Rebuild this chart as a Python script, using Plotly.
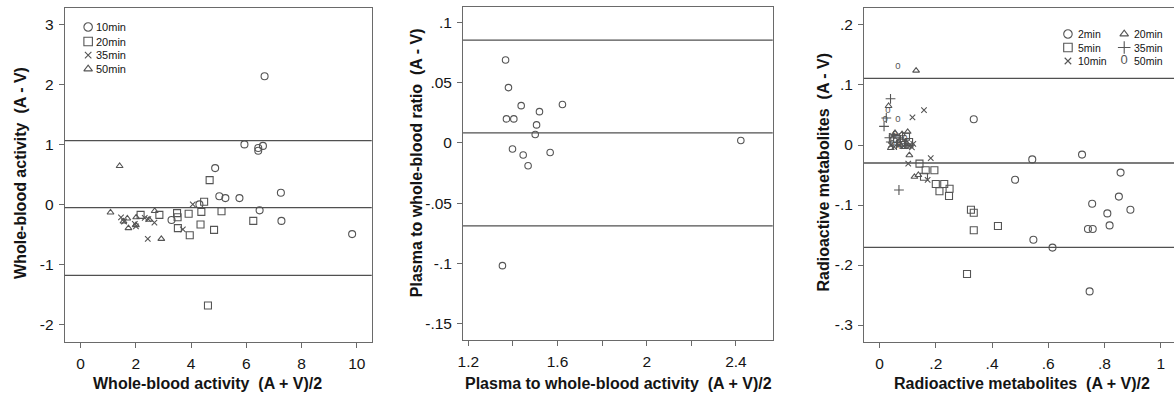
import plotly.graph_objects as go

# ---------------- data ----------------
# Whole-blood activity: mean (A+V)/2 vs difference (A-V), by sampling time
wb_10_x = [6.66, 5.93, 6.43, 6.43, 6.60, 4.87, 5.02, 5.24, 5.75, 7.25, 6.48, 7.27, 9.83, 3.29, 4.30]
wb_10_y = [2.14, 1.005, 0.945, 0.90, 0.98, 0.61, 0.14, 0.11, 0.11, 0.20, -0.094, -0.27, -0.49, -0.255, 0.005]
wb_20_x = [4.67, 4.47, 5.10, 6.25, 4.83, 4.37, 4.34, 3.95, 3.91, 3.52, 3.51, 3.49, 2.85, 2.17, 4.61]
wb_20_y = [0.41, 0.05, -0.11, -0.27, -0.42, -0.12, -0.33, -0.51, -0.15, -0.39, -0.21, -0.14, -0.17, -0.17, -1.68]
wb_35_x = [4.06, 3.70, 2.43, 2.67, 1.46, 1.57, 1.96, 2.00, 2.32, 2.45]
wb_35_y = [0.005, -0.41, -0.57, -0.30, -0.21, -0.28, -0.32, -0.36, -0.22, -0.24]
wb_50_x = [1.41, 1.08, 1.55, 1.69, 1.73, 2.01, 2.48, 2.68, 2.92, 2.00]
wb_50_y = [0.645, -0.13, -0.28, -0.23, -0.39, -0.21, -0.25, -0.105, -0.57, -0.34]
wb_limits = [1.067, -0.05, -1.177]

# Plasma to whole-blood ratio
pr_x = [1.367, 1.380, 1.437, 1.519, 1.622, 1.371, 1.404, 1.506, 1.500, 1.398, 1.446, 1.468, 1.567, 2.422, 1.353]
pr_y = [0.069, 0.046, 0.031, 0.026, 0.032, 0.020, 0.020, 0.015, 0.007, -0.005, -0.010, -0.019, -0.008, 0.002, -0.102]
pr_limits = [0.0855, 0.0083, -0.069]

# Radioactive metabolites, by sampling time
rm_2_x = [0.335, 0.543, 0.720, 0.482, 0.857, 0.851, 0.756, 0.810, 0.892, 0.741, 0.758, 0.818, 0.547, 0.615, 0.747]
rm_2_y = [0.043, -0.024, -0.016, -0.058, -0.046, -0.086, -0.098, -0.114, -0.108, -0.140, -0.140, -0.134, -0.158, -0.171, -0.244]
rm_5_x = [0.142, 0.164, 0.195, 0.158, 0.200, 0.230, 0.213, 0.249, 0.247, 0.325, 0.335, 0.335, 0.421, 0.311,
          0.094, 0.105, 0.088, 0.062, 0.076]
rm_5_y = [-0.031, -0.042, -0.042, -0.053, -0.065, -0.065, -0.077, -0.073, -0.085, -0.108, -0.113, -0.142, -0.135, -0.215,
          0.014, 0.005, 0.000, 0.010, 0.004]
rm_10_x = [0.117, 0.158, 0.102, 0.182, 0.171, 0.040, 0.052, 0.070, 0.086, 0.110, 0.120, 0.065, 0.046, 0.115]
rm_10_y = [0.046, 0.058, -0.031, -0.022, -0.058, 0.000, -0.003, 0.000, -0.002, 0.000, 0.002, 0.008, 0.015, -0.004]
rm_20_x = [0.130, 0.032, 0.106, 0.124, 0.138, 0.100, 0.055, 0.040, 0.080, 0.100]
rm_20_y = [0.124, 0.065, -0.017, -0.053, -0.050, 0.022, 0.020, -0.005, 0.018, -0.003]
rm_35_x = [0.039, 0.016, 0.024, 0.069, 0.050, 0.040, 0.060, 0.095, 0.070, 0.035]
rm_35_y = [0.077, 0.031, 0.045, -0.075, 0.015, 0.005, 0.000, 0.002, 0.012, 0.012]
rm_50_x = [0.065, 0.065, 0.020, 0.030, 0.045, 0.075, 0.055, 0.090]
rm_50_y = [0.131, 0.042, 0.042, 0.058, 0.003, -0.002, 0.018, 0.010]
rm_limits = [0.111, -0.030, -0.1705]

# axis ticks
wb_xticks = [0, 2, 4, 6, 8, 10]
wb_yticks = [-2, -1, 0, 1, 2, 3]
wb_ylabels = ["-2", "-1", "0", "1", "2", "3"]
pr_xticks = [1.2, 1.4, 1.6, 1.8, 2.0, 2.2, 2.4]
pr_xlabels = ["1.2", "", "1.6", "", "2", "", "2.4"]
pr_yticks = [-0.15, -0.1, -0.05, 0, 0.05, 0.1]
pr_ylabels = ["-.15", "-.1", "-.05", "0", ".05", ".1"]
rm_xticks = [0, 0.2, 0.4, 0.6, 0.8, 1.0]
rm_xlabels = ["0", ".2", ".4", ".6", ".8", "1"]
rm_yticks = [-0.3, -0.2, -0.1, 0, 0.1, 0.2]
rm_ylabels = ["-.3", "-.2", "-.1", "0", ".1", ".2"]

# ---------------- style ----------------
W, H = 1174, 399
FONT = "Liberation Sans, Arial, sans-serif"
MARK = "#555555"
AXIS = "#6a6a6a"
REF = "#505050"
TXT = "#141414"


def px_x(p):
    return p / W


def px_y(p):
    return (H - p) / H


SYMBOLS = {
    "circle": dict(symbol="circle-open", size=7),
    "square": dict(symbol="square-open", size=7),
    "x": dict(symbol="x-thin-open", size=5.5),
    "triangle": dict(symbol="triangle-up-open", size=6),
    "cross": dict(symbol="cross-thin-open", size=7),
}

fig = go.Figure()


def add_points(xs, ys, kind, xa, ya, name, size=None):
    spec = dict(SYMBOLS[kind])
    if size is not None:
        spec["size"] = size
    fig.add_trace(go.Scatter(
        x=xs, y=ys, mode="markers", name=name, xaxis=xa, yaxis=ya,
        marker=dict(symbol=spec["symbol"], size=spec["size"], color=MARK,
                    line=dict(color=MARK, width=1.1)),
        showlegend=False, hoverinfo="skip"))


def add_zeros(xs, ys, xa, ya, name, size=9.5):
    fig.add_trace(go.Scatter(
        x=xs, y=ys, mode="text", text=["0"] * len(xs), name=name, xaxis=xa, yaxis=ya,
        textfont=dict(family=FONT, size=size, color=MARK), textposition="middle center",
        showlegend=False, hoverinfo="skip"))


# panel 1
add_points(wb_10_x, wb_10_y, "circle", "x", "y", "10min")
add_points(wb_20_x, wb_20_y, "square", "x", "y", "20min")
add_points(wb_35_x, wb_35_y, "x", "x", "y", "35min")
add_points(wb_50_x, wb_50_y, "triangle", "x", "y", "50min")
# panel 2
add_points(pr_x, pr_y, "circle", "x2", "y2", "ratio", size=6.5)
# panel 3
add_points(rm_2_x, rm_2_y, "circle", "x3", "y3", "2min")
add_points(rm_5_x, rm_5_y, "square", "x3", "y3", "5min")
add_points(rm_10_x, rm_10_y, "x", "x3", "y3", "10min")
add_points(rm_20_x, rm_20_y, "triangle", "x3", "y3", "20min")
add_points(rm_35_x, rm_35_y, "cross", "x3", "y3", "35min")
add_zeros(rm_50_x, rm_50_y, "x3", "y3", "50min")

# limits of agreement and mean difference
for ax, limits in (("", wb_limits), ("2", pr_limits), ("3", rm_limits)):
    for v in limits:
        fig.add_shape(type="line", xref=f"x{ax} domain", yref=f"y{ax}",
                      x0=0, x1=1, y0=v, y1=v, line=dict(color=REF, width=1.3))

# ---------------- key boxes (pixel-space overlay) ----------------
key1 = [("circle", "10min"), ("square", "20min"), ("x", "35min"), ("triangle", "50min")]
key1_pos = dict(mx=83.5, tx=89.5, rows=[27, 41.5, 55.2, 69], font=11)
key3 = [[("circle", "2min"), ("square", "5min"), ("x", "10min")],
        [("triangle", "20min"), ("cross", "35min"), ("zero", "50min")]]
key3_pos = dict(mx=[1067.5, 1124], tx=[1075.5, 1132], rows=[34, 47.5, 61], font=10.5)

KEY_SIZE = {"circle": 8.5, "square": 8.5, "x": 6.5, "triangle": 7.5, "cross": 9}


def key_item(kind, label, mx, tx, yy, fsize):
    if kind == "zero":
        fig.add_trace(go.Scatter(x=[mx], y=[yy], mode="text", text=["0"], xaxis="x4", yaxis="y4",
                                 textfont=dict(family=FONT, size=13, color=MARK),
                                 showlegend=False, hoverinfo="skip"))
    else:
        fig.add_trace(go.Scatter(x=[mx], y=[yy], mode="markers", xaxis="x4", yaxis="y4",
                                 marker=dict(symbol=SYMBOLS[kind]["symbol"], size=KEY_SIZE[kind],
                                             color=MARK, line=dict(color=MARK, width=1.1)),
                                 showlegend=False, hoverinfo="skip"))
    fig.add_annotation(x=tx, y=yy, xref="x4", yref="y4", text=label, showarrow=False,
                       xanchor="left", yanchor="middle",
                       font=dict(family=FONT, size=fsize, color=TXT))


for (kind, label), yy in zip(key1, key1_pos["rows"]):
    key_item(kind, label, key1_pos["mx"], key1_pos["tx"], yy, key1_pos["font"])
for c, col in enumerate(key3):
    for (kind, label), yy in zip(col, key3_pos["rows"]):
        key_item(kind, label, key3_pos["mx"][c], key3_pos["tx"][c], yy, key3_pos["font"])

# ---------------- axis titles ----------------
NB = "\u00a0"
titles = [
    ("Whole-blood activity" + NB * 2 + "(A + V)/2", 203.5, 383, 0),
    ("Whole-blood activity" + NB * 2 + "(A - V)", 15, 173, -90),
    ("Plasma to whole-blood activity" + NB * 2 + "(A + V)/2", 616.5, 383, 0),
    ("Plasma to whole-blood ratio" + NB * 2 + "(A - V)", 413, 163, -90),
    ("Radioactive metabolites" + NB * 2 + "(A + V)/2", 1021, 383, 0),
    ("Radioactive metabolites" + NB * 2 + "(A - V)", 821.5, 172.5, -90),
]
for text, x, y, ang in titles:
    fig.add_annotation(x=px_x(x), y=px_y(y), xref="paper", yref="paper", text=f"<b>{text}</b>",
                       showarrow=False, xanchor="center", yanchor="middle", textangle=ang,
                       font=dict(family=FONT, size=16, color=TXT))

# ---------------- axes ----------------
base = dict(showline=True, mirror=True, linecolor=AXIS, linewidth=1, ticks="outside",
            ticklen=5, tickwidth=1, tickcolor=AXIS, showgrid=False, zeroline=False,
            tickfont=dict(family=FONT, size=15.5, color=TXT), ticklabelstandoff=2)

fig.update_layout(
    width=W, height=H, margin=dict(l=0, r=0, t=0, b=0),
    paper_bgcolor="white", plot_bgcolor="rgba(0,0,0,0)", showlegend=False,
    xaxis=dict(base, domain=[px_x(60), px_x(368.3)], range=[-0.577, 10.54], tickvals=wb_xticks, anchor="y"),
    yaxis=dict(base, domain=[px_y(342.3), px_y(8)], range=[-2.293, 3.278], tickvals=wb_yticks,
               ticktext=wb_ylabels, anchor="x"),
    xaxis2=dict(base, domain=[px_x(460), px_x(771)], range=[1.1763, 2.565], tickvals=pr_xticks,
                ticktext=pr_xlabels, anchor="y2"),
    yaxis2=dict(base, domain=[px_y(340), px_y(7)], range=[-0.1638, 0.113], tickvals=pr_yticks,
                ticktext=pr_ylabels, anchor="x2"),
    xaxis3=dict(base, domain=[px_x(862.7), 1.0], range=[-0.0552, 1.047], tickvals=rm_xticks,
                ticktext=rm_xlabels, anchor="y3"),
    yaxis3=dict(base, mirror=False, domain=[px_y(342.3), px_y(8.3)], range=[-0.3288, 0.2278],
                tickvals=rm_yticks, ticktext=rm_ylabels, anchor="x3"),
    xaxis4=dict(domain=[0, 1], range=[0, W], visible=False, anchor="y4", fixedrange=True),
    yaxis4=dict(domain=[0, 1], range=[H, 0], visible=False, anchor="x4", fixedrange=True),
)

fig.write_html("out.html")
